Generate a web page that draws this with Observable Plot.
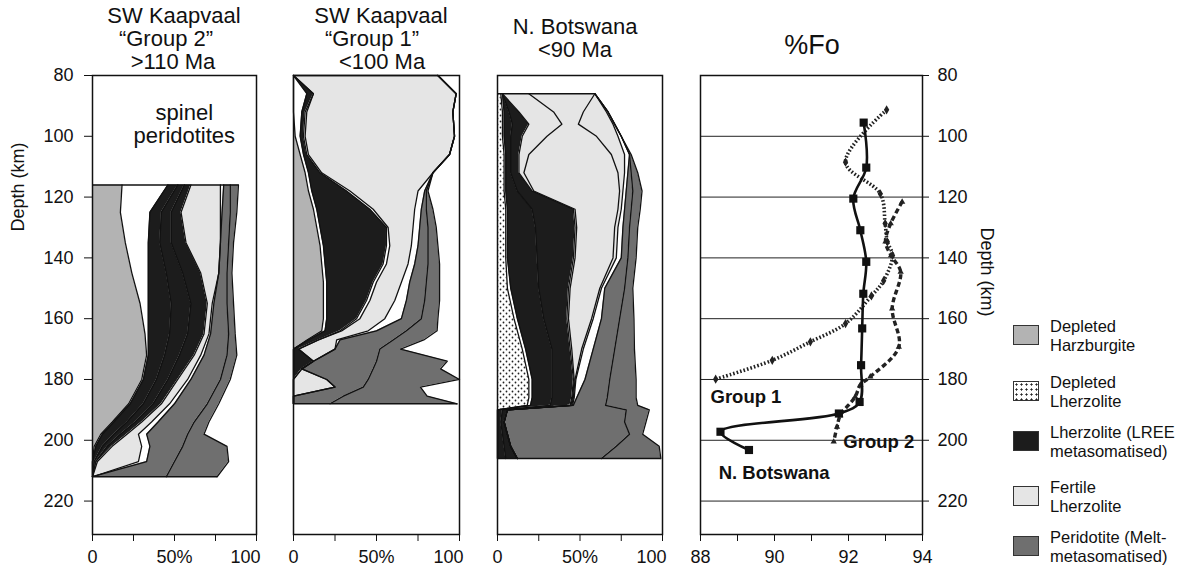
<!DOCTYPE html>
<html><head><meta charset="utf-8">
<script src="https://cdn.jsdelivr.net/npm/d3@7"></script>
<script src="https://cdn.jsdelivr.net/npm/@observablehq/plot@0.6"></script>
<style>
body{margin:0;background:#fff;font-family:"Liberation Sans",Arial,sans-serif;color:#111}
#wrap{position:relative;width:1196px;height:574px;overflow:hidden;background:#fff}
.panel{position:absolute;top:0}
.t{position:absolute;white-space:nowrap;transform:translate(-50%,-50%);font-size:22px;line-height:22px}
.lg{position:absolute;left:1013px;width:26px;height:20px;border:1px solid #333;box-sizing:border-box}
.lt{position:absolute;left:1050px;font-size:16.5px;line-height:19px;white-space:nowrap}
</style></head><body>
<svg width="0" height="0" style="position:absolute"><defs>
<pattern id="dots" width="6" height="6" patternUnits="userSpaceOnUse">
<rect width="6" height="6" fill="#fff"/><circle cx="1.5" cy="1.5" r="0.9" fill="#222"/><circle cx="4.5" cy="4.5" r="0.9" fill="#222"/>
</pattern></defs></svg>
<div id="wrap"></div>
<script>
// ---------- data ----------
const yTicks = [80, 100, 120, 140, 160, 180, 200, 220];
const foGrid = [100, 120, 140, 160, 180, 200, 220];
const foTicks = [88, 89, 90, 91, 92, 93, 94];
const pctTicks = [0, 25, 50, 75, 100];

// Panel 1: SW Kaapvaal "Group 2" (cumulative % boundaries vs depth)
const p1Depth  = [116,125,135,145,155,165,172,180,188,194,198,202,207,212];
const p1H      = [18,17,20,24,29,32,33,30,22,12,5,1,0,0];
const p1Lleft  = [46,35,34,34,34,34,34,31,23,13,6,2,0,0];
const p1L1     = [52,42,41,45,48,47,44,39,31,21,13,6,1,0];
const p1L2     = [56,48,48,55,60,58,53,46,37,26,17,9,2,0];
const p1Lright = [60,54,57,66,70,68,62,52,42,30,21,12,3,0];
const p1Fright = [78,78,78,77,73,71,66,58,47,36,28,30,28,0];
const p1Mleft  = [80,79,78,77,74,72,68,60,50,40,33,35,33,0];
const p1Mmid   = [84,84,83,82,82,83,82,78,70,62,58,55,50,45];
const p1Mright = [89,88,86,85,86,87,88,84,77,71,68,82,83,76];
const p1Kinds  = ["H","W","L","L","L","F","W","M","M"];

// Panel 2: SW Kaapvaal "Group 1"
const p2Depth  = [80,86,92,100,106,112,118,124,130,136,142,148,154,160,164,167,170,174,176.5,180,182.5,185.5,188];
const p2H      = [0,0,0,1,4,7,9,12,14,16,17,18,18,18,17,8,0,0,0,0,0,0,0];
const p2Lleft  = [0,8,5,4,6,9,11,14,16,18,19,20,20,20,19,9,0,0,0,0,0,0,0];
const p2Lright = [0,12,7,6,8,16,32,46,56,56,54,48,44,38,28,15,3,12,5,0,0,0,0];
const p2Fleft  = [0,12,8,7,9,17,34,48,57,58,56,50,46,40,29,15,3,12,5,0,0,0,0];
const p2Fright = [87,98,96,97,94,84,75,73,72,71,69,65,61,55,45,26,25,12,5,20,25,0,0];
const p2Mleft  = [87,98,96,97,94,84,79,77,76,75,73,70,68,65,50,28,25,12,5,20,25,0,0];
const p2Mmid   = [87,98,96,97,94,84,80,80,81,81,81,80,79,77,68,60,52,50,48,45,42,30,22];
const p2Mright = [87,98,96,97,94,84,81,84,86,87,88,88,88,87,86.5,78.5,64.5,92.6,88.6,100,76.5,80.5,98.6];
const p2Kinds  = ["H","W","L","W","F","W","M","M"];

// Panel 3: N. Botswana
const p3Depth  = [86,92,96,100,106,112,118,124,130,140,150,160,170,180,186,188.5,190,194,198,202,206];
const p3D      = [2,3,3,3,4,4,4,5,5,5,6,10,15,19,19,18,0,0,0,0,0];
const p3Lleft  = [3,4,4,4,5,5,5,6,6,6,8,12,17,21,21,20,0,0,0,0,0];
const p3Lmid   = [3,7,9,8,8,8,12,21,23,24,25,28,33,33,33,32,3,2,3,4,5];
const p3Lright = [3,13,19,15,13,13,21,46,47,46,43,42,44,46,45,44,6,4,6,8,12];
const p3F1     = [19,34,39,30,19,16,22,47,48,47,44,43,45,46.5,45.5,44.5,6,4,6,8,12];
const p3F2     = [59,52,49,60,69,73,74,73,71,70,62,57,51,47,46,45,6,4,6,8,12];
const p3Fright = [59,66,70,73,77,77,76,75,73,72,63,58,52,47.5,46.5,45.5,6,4,6,8,12];
const p3Mleft  = [59,67,71,75,80,79,78,77,76,75,65,63,58,53,48,46,6,4,6,8,12];
const p3Mmid   = [59,67,71,75,80,81,82,81,80,79,77,74,71,68,66.5,65.5,78,77,80,72,63];
const p3Mright = [59,67,71,75,81,85,87.6,86.5,85,84,82,82.7,83,84,84,85,92,90,88,98,99];
const p3Kinds  = ["D","W","L","L","F","F","F","W","M","M"];

// %Fo profiles
const botDepth = [95.5,110.3,120.5,130.9,141.3,151.8,163.2,175.3,187.4,191.2,197.2,203.2];
const botFo    = [92.41,92.48,92.13,92.32,92.48,92.40,92.37,92.34,92.30,91.74,88.54,89.31];
const g1Depth  = [91.3,108.5,118.9,128.7,134.7,139.2,147.5,152.5,161.6,167.6,173.7,179.9];
const g1Fo     = [93.03,91.92,92.86,92.99,93.05,93.19,92.95,92.62,91.92,90.97,89.94,88.41];
const g2Depth  = [121.6,128.7,134.7,139.2,144.6,156.7,169.3,179.1,181.8,185.7,191.8,195.6,200.5];
const g2Fo     = [93.45,93.14,93.0,93.15,93.41,93.18,93.36,92.59,92.32,92.18,91.78,91.69,91.6];

const legendKinds = ["H","D","L","F","M"];
const legendText = [["Depleted","Harzburgite"],["Depleted","Lherzolite"],["Lherzolite (LREE","metasomatised)"],["Fertile","Lherzolite"],["Peridotite (Melt-","metasomatised)"]];

// ---------- drawing ----------
const fillOf = {H:"#b3b3b3", D:"url(#dots)", L:"#1c1c1c", F:"#e5e5e5", M:"#6f6f6f"};
const wrap = document.getElementById("wrap");
const baseStyle = {fontFamily:"Liberation Sans, Arial, sans-serif", fontSize:"18px", color:"#111", background:"#fff", overflow:"visible"};

function depthPanel(depths, bounds, kinds, left, width, ml, mr, showY, extra) {
  const all = [depths.map(() => 0), ...bounds];
  const rows = depths.map((d, i) => {
    const r = {d};
    all.forEach((b, j) => r["b" + j] = b[i]);
    return r;
  });
  const marks = [];
  kinds.forEach((k, j) => {
    if (k !== "W") marks.push(Plot.areaX(rows, {y:"d", x1:"b"+j, x2:"b"+(j+1), fill:fillOf[k]}));
  });
  all.forEach((b, j) => {
    if (j > 0) marks.push(Plot.line(rows, {x:"b"+j, y:"d", stroke:"#111", strokeWidth:1.3}));
  });
  const last = "b" + (all.length - 1);
  marks.push(Plot.link([rows[0], rows[rows.length - 1]], {x1:"b0", x2:last, y1:"d", y2:"d", stroke:"#111", strokeWidth:1.5}));
  marks.push(Plot.frame({stroke:"#111", strokeWidth:1.5}));
  marks.push(Plot.axisX({ticks:pctTicks, tickFormat:d => d === 50 ? "50%" : (d === 0 ? "0" : ""), tickSize:7, tickPadding:9, label:null}));
  marks.push(Plot.axisX({ticks:[100], tickFormat:String, tickSize:0, tickPadding:16, textAnchor:"end", dx:4, label:null}));
  if (showY) marks.push(Plot.axisY({ticks:yTicks, tickSize:8, tickPadding:11, label:null}));
  if (extra) marks.push(...extra);
  const svg = Plot.plot({
    width, height:574, marginLeft:ml, marginRight:mr, marginTop:75, marginBottom:40,
    x:{domain:[0,100]}, y:{domain:[80,231], reverse:true, axis: showY ? undefined : null},
    style:baseStyle, marks
  });
  const div = document.createElement("div");
  div.className = "panel"; div.style.left = left + "px";
  div.appendChild(svg); wrap.appendChild(div);
}

depthPanel(p1Depth, [p1H,p1Lleft,p1L1,p1L2,p1Lright,p1Fright,p1Mleft,p1Mmid,p1Mright], p1Kinds, 0, 270, 92, 14, true,
  [Plot.text(["spinel\nperidotites"], {x:56, y:96, fontSize:22, lineHeight:1.05, fill:"#111"})]);
depthPanel(p2Depth, [p2H,p2Lleft,p2Lright,p2Fleft,p2Fright,p2Mleft,p2Mmid,p2Mright], p2Kinds, 270, 205, 23, 16, false);
depthPanel(p3Depth, [p3D,p3Lleft,p3Lmid,p3Lright,p3F1,p3F2,p3Fright,p3Mleft,p3Mmid,p3Mright], p3Kinds, 475, 205, 22, 18, false);

// %Fo panel
const bot = botDepth.map((d, i) => ({d, fo:botFo[i]}));
const g1 = g1Depth.map((d, i) => ({d, fo:g1Fo[i]}));
const g2 = g2Depth.map((d, i) => ({d, fo:g2Fo[i]}));
const foSvg = Plot.plot({
  width:300, height:574, marginLeft:15, marginRight:63, marginTop:75, marginBottom:40,
  x:{domain:[88,94]}, y:{domain:[80,231], reverse:true}, style:baseStyle,
  marks:[
    Plot.ruleY(foGrid, {stroke:"#222", strokeWidth:1}),
    Plot.frame({stroke:"#111", strokeWidth:1.5}),
    Plot.axisX({ticks:foTicks, tickFormat:d => d % 2 ? "" : String(d), tickSize:7, tickPadding:9, label:null}),
    Plot.axisY({anchor:"right", ticks:yTicks, tickSize:6, tickPadding:9, label:null}),
    Plot.line(g1, {x:"fo", y:"d", stroke:"#222", strokeWidth:3.6, strokeDasharray:"1.6,2", strokeLinecap:"butt", curve:"catmull-rom"}),
    Plot.dot(g1, {x:"fo", y:"d", symbol:"diamond", r:2.8, fill:"#222"}),
    Plot.line(g2, {x:"fo", y:"d", stroke:"#222", strokeWidth:3.4, strokeDasharray:"5,3", strokeLinecap:"butt", curve:"catmull-rom"}),
    Plot.dot(g2, {x:"fo", y:"d", symbol:"triangle2", r:3, fill:"#222"}),
    Plot.line(bot, {x:"fo", y:"d", stroke:"#111", strokeWidth:2.6, curve:"catmull-rom"}),
    Plot.dot(bot, {x:"fo", y:"d", symbol:"square", r:4.6, fill:"#111"}),
    Plot.text(["Group 1"], {x:88.27, y:185.8, textAnchor:"start", fontSize:18.5, fontWeight:"bold", fill:"#111"}),
    Plot.text(["Group 2"], {x:91.86, y:200.6, textAnchor:"start", fontSize:18.5, fontWeight:"bold", fill:"#111"}),
    Plot.text(["N. Botswana"], {x:88.49, y:210.8, textAnchor:"start", fontSize:18.5, fontWeight:"bold", fill:"#111"})
  ]
});
const fdiv = document.createElement("div");
fdiv.className = "panel"; fdiv.style.left = "685px";
fdiv.appendChild(foSvg); wrap.appendChild(fdiv);

// titles & labels (HTML text)
function addText(txt, x, y, cls, extra) {
  const e = document.createElement("div");
  e.className = cls; e.textContent = txt;
  e.style.left = x + "px"; e.style.top = y + "px";
  if (extra) Object.assign(e.style, extra);
  wrap.appendChild(e);
}
addText("SW Kaapvaal", 174, 16, "t");
addText("“Group 2”", 166, 39, "t");
addText(">110 Ma", 173, 62, "t");
addText("SW Kaapvaal", 381, 16, "t");
addText("“Group 1”", 372, 39, "t");
addText("<100 Ma", 382, 62, "t");
addText("N. Botswana", 575, 27, "t");
addText("<90 Ma", 575, 50, "t");
addText("%Fo", 812, 45, "t", {fontSize:"27px"});
addText("Depth (km)", 18, 187, "t", {fontSize:"18px", transform:"translate(-50%,-50%) rotate(-90deg)"});
addText("Depth (km)", 987, 272, "t", {fontSize:"18px", transform:"translate(-50%,-50%) rotate(90deg)"});

// legend
const swTop = [325, 381, 431, 486, 536];
legendKinds.forEach((k, i) => {
  const s = document.createElement("div");
  s.className = "lg"; s.style.top = swTop[i] + "px"; s.style.background = k === "D" ? "#fff" : fillOf[k];
  if (k === "D") { s.style.backgroundImage = "radial-gradient(circle, #222 0.9px, transparent 1.2px)"; s.style.backgroundSize = "5px 5px"; }
  wrap.appendChild(s);
  const t = document.createElement("div");
  t.className = "lt"; t.style.top = (swTop[i] - 8) + "px";
  t.innerHTML = legendText[i].join("<br>");
  wrap.appendChild(t);
});
</script>
</body></html>
